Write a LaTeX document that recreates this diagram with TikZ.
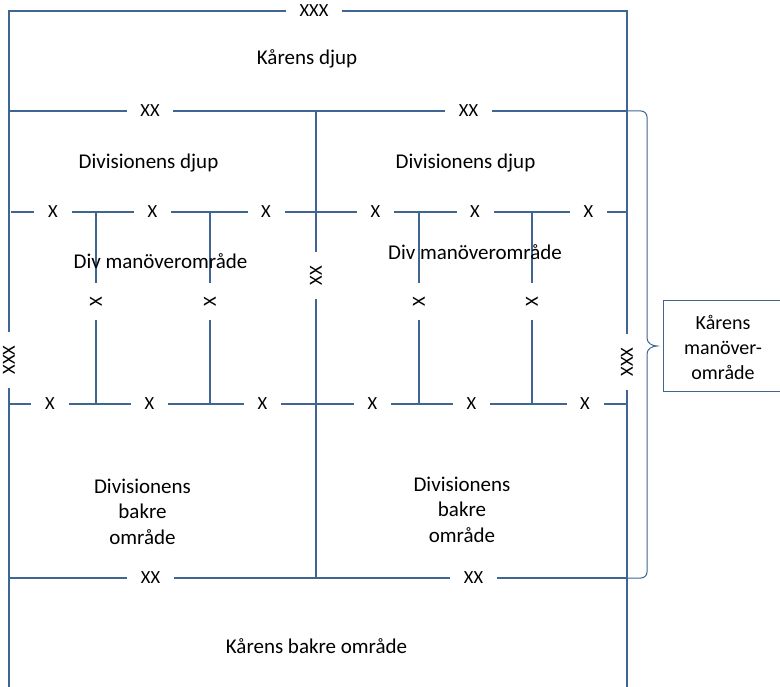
\documentclass[tikz,border=0pt]{standalone}
\usepackage{fontspec}
\setmainfont{Carlito}
\definecolor{lc}{RGB}{62,102,145}
\begin{document}
\begin{tikzpicture}[x=1pt,y=-1pt,
  ln/.style={draw=lc, line width=1.5pt},
  thinln/.style={draw=lc, line width=1pt},
  lab/.style={font=\fontsize{18.5}{22}\selectfont, inner xsep=13.5pt, inner ysep=1pt},
  vlab/.style={lab, rotate=90},
  txt/.style={font=\fontsize{21}{25.5}\selectfont, align=center, inner sep=0pt},
  boxtxt/.style={font=\fontsize{20}{25}\selectfont, align=center, inner sep=0pt},
]
\useasboundingbox (0,0) rectangle (780,687);

% frame coordinates
\coordinate (TL) at (9,11);
\coordinate (TR) at (627,11);
\coordinate (BL) at (9,690);
\coordinate (BR) at (627,690);
\coordinate (L1) at (9,111);
\coordinate (R1) at (627,111);
\coordinate (L2) at (9,578);
\coordinate (R2) at (627,578);
\coordinate (C1) at (316,111);
\coordinate (C2) at (316,578);

% frame labels
\node[lab] (top3) at (314,11) {XXX};
\node[vlab] (left3) at (9,360) {XXX};
\node[vlab] (right3) at (627,362) {XXX};
\draw[ln] (BL) -- (left3) -- (TL) -- (top3) -- (TR) -- (right3) -- (BR);

% division boundaries
\node[lab] (xxa) at (150,111) {XX};
\node[lab] (xxb) at (468.5,111) {XX};
\draw[ln] (L1) -- (xxa) -- (xxb) -- (R1);
\node[lab] (xxc) at (150.5,578) {XX};
\node[lab] (xxd) at (473.5,578) {XX};
\draw[ln] (L2) -- (xxc) -- (xxd) -- (R2);
\node[vlab] (xxv) at (316,275.5) {XX};
\draw[ln] (C1) -- (xxv) -- (C2);

% upper brigade line
\coordinate (U0) at (11,212);
\coordinate (U1) at (627,212);
\node[lab] (ua) at (53,212) {X};
\node[lab] (ub) at (152.5,212) {X};
\node[lab] (uc) at (266,212) {X};
\node[lab] (ud) at (375.5,212) {X};
\node[lab] (ue) at (475,212) {X};
\node[lab] (uf) at (588.5,212) {X};
\draw[ln] (U0) -- (ua) -- (ub) -- (uc) -- (ud) -- (ue) -- (uf) -- (U1);

% lower brigade line
\coordinate (W0) at (9.5,404);
\coordinate (W1) at (627,404);
\node[lab] (wa) at (50,404) {X};
\node[lab] (wb) at (149.5,404) {X};
\node[lab] (wc) at (262.5,404) {X};
\node[lab] (wd) at (372.5,404) {X};
\node[lab] (we) at (471.5,404) {X};
\node[lab] (wf) at (585,404) {X};
\draw[ln] (W0) -- (wa) -- (wb) -- (wc) -- (wd) -- (we) -- (wf) -- (W1);

% brigade verticals
\foreach \n/\x in {va/96, vb/210, vc/419, vd/532}{
  \coordinate (\n t) at (\x,212);
  \coordinate (\n b) at (\x,404);
  \node[vlab] (\n) at (\x,301.5) {X};
  \draw[ln] (\n t) -- (\n) -- (\n b);
}

% area texts
\node[txt] (kdjup) at (307,59) {Kårens djup};
\node[txt] (ddjupL) at (148.5,163) {Divisionens djup};
\node[txt] (ddjupR) at (465.5,163) {Divisionens djup};
\node[txt] (dmanL) at (160.5,261) {Div manöverområde};
\node[txt] (dmanR) at (475,252) {Div manöverområde};
\node[txt] (dbakL) at (142.5,511.5) {Divisionens\\bakre\\område};
\node[txt] (dbakR) at (462,509.5) {Divisionens\\bakre\\område};
\node[txt] (kbak) at (316.5,646) {Kårens bakre område};

% brace and box
\coordinate (brtip) at (657,346);
\draw[thinln] (R1) -- (641,111) to[out=0,in=90] (647,117) -- (647,338)
  to[out=-90,in=180] (brtip) to[out=180,in=90] (647,354) -- (647,572)
  to[out=-90,in=0] (641,578) -- (R2);
\node[draw=lc, line width=1pt, anchor=west, minimum width=120pt,
  minimum height=91pt, inner sep=0pt] (kman) at (663,346.5) {};
\node[boxtxt] (kmantxt) at (723,347) {Kårens\\manöver-\\område};
\end{tikzpicture}
\end{document}
